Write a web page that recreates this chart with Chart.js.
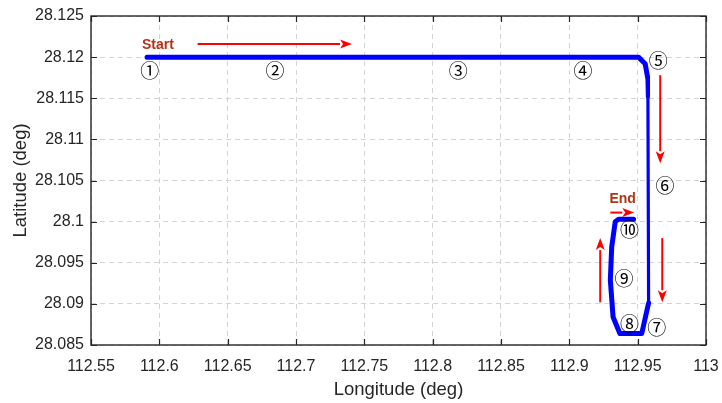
<!DOCTYPE html>
<html><head><meta charset="utf-8">
<script src="https://cdn.jsdelivr.net/npm/chart.js@4/dist/chart.umd.min.js"></script>
<style>html,body{margin:0;padding:0;background:#fff}#wrap{width:722px;height:403px}</style>
</head><body><div id="wrap"><canvas id="c" width="722" height="403"></canvas></div>
<script>
// Trajectory (longitude, latitude)
const pathLon = [112.591, 112.9506, 112.9555, 112.9572, 112.9575, 112.958, 112.953, 112.937, 112.932, 112.930, 112.931, 112.9336, 112.936, 112.947];
const pathLat = [28.1200, 28.1200, 28.1192, 28.1176, 28.1152, 28.0901, 28.0864, 28.0864, 28.0884, 28.0929, 28.0969, 28.1000, 28.1003, 28.1003];
// Tick values
const xTicks = [112.55, 112.6, 112.65, 112.7, 112.75, 112.8, 112.85, 112.9, 112.95, 113];
const yTicks = [28.085, 28.09, 28.095, 28.1, 28.105, 28.11, 28.115, 28.12, 28.125];
// Waypoint markers
const markLabels = ['①','②','③','④','⑤','⑥','⑦','⑧','⑨','⑩'];
const markLon = [112.593, 112.6847, 112.8187, 112.910, 112.965, 112.970, 112.964, 112.944, 112.940, 112.944];
const markLat = [28.1184, 28.1184, 28.1184, 28.1184, 28.1195, 28.1043, 28.0871, 28.0876, 28.0931, 28.0990];
// Direction arrows [from lon, from lat, to lon, to lat]
const arrowFromLon = [112.628, 112.9665, 112.968, 112.9226, 112.930];
const arrowFromLat = [28.1216, 28.1178, 28.0980, 28.0902, 28.1011];
const arrowToLon = [112.741, 112.9665, 112.968, 112.9226, 112.9475];
const arrowToLat = [28.1216, 28.1071, 28.0902, 28.0980, 28.1011];
// Start / End text
const tagText = ['Start', 'End'];
const tagLon = [112.599, 112.939];
const tagLat = [28.1214, 28.1027];

const pts = pathLon.map((x, i) => ({x, y: pathLat[i]}));
const segWidth = i => (i === 4 ? 3.2 : (i === 3 ? 4.2 : 5));

const annot = {
  id: 'annot',
  afterDatasetsDraw(chart) {
    const {ctx, chartArea: a, scales: {x, y}} = chart;
    ctx.save();
    // box
    ctx.strokeStyle = '#262626'; ctx.lineWidth = 1.4;
    ctx.strokeRect(a.left, a.top, a.right - a.left, a.bottom - a.top);
    // inward ticks
    ctx.lineWidth = 1.2;
    ctx.beginPath();
    xTicks.forEach(v => { const px = Math.round(x.getPixelForValue(v)) + 0.5;
      ctx.moveTo(px, a.bottom); ctx.lineTo(px, a.bottom - 6);
      ctx.moveTo(px, a.top); ctx.lineTo(px, a.top + 6); });
    yTicks.forEach(v => { const py = Math.round(y.getPixelForValue(v)) + 0.5;
      ctx.moveTo(a.left, py); ctx.lineTo(a.left + 6, py);
      ctx.moveTo(a.right, py); ctx.lineTo(a.right - 6, py); });
    ctx.stroke();
    // arrows
    ctx.strokeStyle = '#ff0000'; ctx.fillStyle = '#ff0000'; ctx.lineWidth = 2;
    arrowFromLon.forEach((lx, i) => {
      const x0 = x.getPixelForValue(lx), y0 = y.getPixelForValue(arrowFromLat[i]);
      const x1 = x.getPixelForValue(arrowToLon[i]), y1 = y.getPixelForValue(arrowToLat[i]);
      const ang = Math.atan2(y1 - y0, x1 - x0);
      const L = 12, W = 4.5;
      const bx = x1 - L * Math.cos(ang), by = y1 - L * Math.sin(ang);
      ctx.beginPath(); ctx.moveTo(x0, y0); ctx.lineTo(bx, by); ctx.stroke();
      ctx.beginPath(); ctx.moveTo(x1, y1);
      ctx.lineTo(bx - W * Math.sin(ang), by + W * Math.cos(ang));
      ctx.lineTo(bx + 3 * Math.cos(ang), by + 3 * Math.sin(ang));
      ctx.lineTo(bx + W * Math.sin(ang), by - W * Math.cos(ang));
      ctx.closePath(); ctx.fill();
    });
    // markers
    ctx.fillStyle = '#000'; ctx.textAlign = 'center'; ctx.textBaseline = 'middle';
    ctx.font = '19px "Noto Sans CJK JP"';
    markLabels.forEach((t, i) => ctx.fillText(t, x.getPixelForValue(markLon[i]), y.getPixelForValue(markLat[i])));
    // start/end
    ctx.fillStyle = '#b23418'; ctx.font = 'bold 14px "Liberation Sans"';
    tagText.forEach((t, i) => ctx.fillText(t, x.getPixelForValue(tagLon[i]), y.getPixelForValue(tagLat[i])));
    ctx.restore();
  }
};

const fmt = (v, d) => String(Number(v.toFixed(d)));
const noPad = s => { s.paddingLeft = 0; s.paddingRight = 0; s.paddingTop = 0; s.paddingBottom = 0; };

new Chart(document.getElementById('c'), {
  type: 'scatter',
  data: { datasets: [{
    data: pts, showLine: true, borderColor: '#0000ff', backgroundColor: '#0000ff',
    borderWidth: 5, pointRadius: 0, borderCapStyle: 'butt', borderJoinStyle: 'round',
    segment: { borderWidth: c => segWidth(c.p0DataIndex), borderCapStyle: 'round' }
  }]},
  options: {
    responsive: false, animation: false, devicePixelRatio: 1,
    layout: { padding: { left: 0, right: 16, top: 16, bottom: 0 } },
    plugins: { legend: { display: false }, tooltip: { enabled: false } },
    scales: {
      x: {
        type: 'linear', min: 112.55, max: 113,
        afterBuildTicks: s => { s.ticks = xTicks.map(v => ({value: v})); },
        afterFit: s => { s.height = 58; noPad(s); },
        grid: { color: '#d4d4d4', drawTicks: false, lineWidth: 1 },
        border: { display: false, dash: [5, 4] },
        ticks: { padding: 12, color: '#262626', font: { family: 'Liberation Sans', size: 16 }, maxRotation: 0, autoSkip: false,
          callback: v => fmt(v, 2) },
        title: { display: true, text: 'Longitude (deg)', color: '#262626', font: { family: 'Liberation Sans', size: 18.5 }, padding: { top: 0, bottom: 2 } }
      },
      y: {
        type: 'linear', min: 28.085, max: 28.125,
        afterBuildTicks: s => { s.ticks = yTicks.map(v => ({value: v})); },
        afterFit: s => { s.width = 91; noPad(s); },
        grid: { color: '#d4d4d4', drawTicks: false, lineWidth: 1 },
        border: { display: false, dash: [5, 4] },
        ticks: { padding: 7, color: '#262626', font: { family: 'Liberation Sans', size: 16 }, autoSkip: false,
          callback: v => fmt(v, 3) },
        title: { display: true, text: 'Latitude (deg)', color: '#262626', font: { family: 'Liberation Sans', size: 18.5 }, padding: { top: 10, bottom: 0 } }
      }
    }
  },
  plugins: [annot]
});
</script></body></html>
